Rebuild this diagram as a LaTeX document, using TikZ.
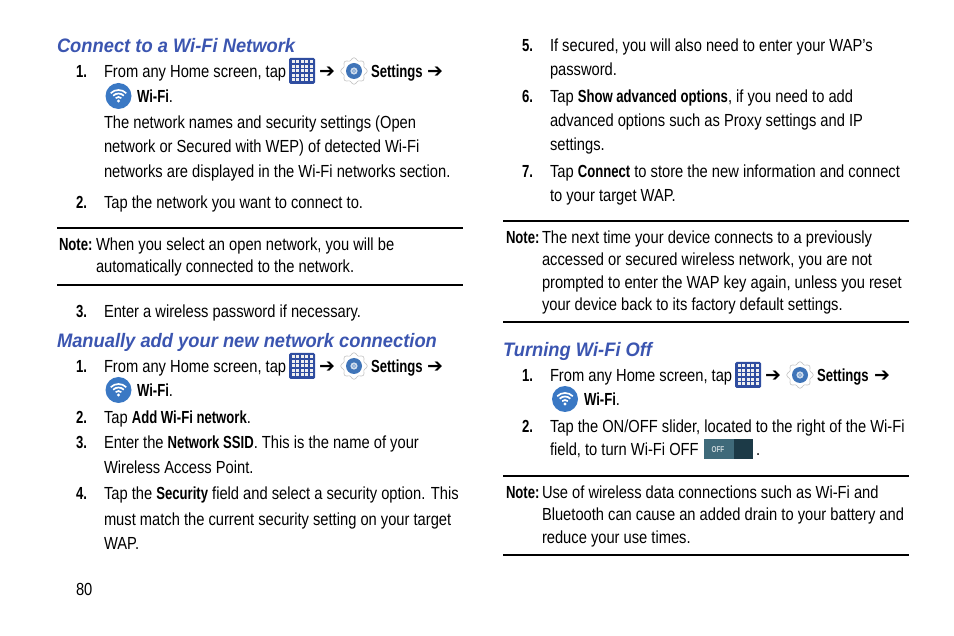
\documentclass[tikz,border=0pt]{standalone}
\usepackage{fontspec}
\setmainfont[FakeStretch=0.84,BoldFeatures={FakeStretch=0.75}]{Liberation Sans}
\newfontfamily\headfont[FakeStretch=0.94]{Liberation Sans}
\newfontfamily\arrowfont{DejaVu Sans}
\usepackage{xcolor}
\definecolor{headblue}{HTML}{3B55B0}
\definecolor{appsblue}{HTML}{2F4DA0}
\definecolor{wifiblue}{HTML}{3A78C4}
\definecolor{gearblue}{HTML}{3F74B8}
\definecolor{sliderdark}{HTML}{1C3A47}
\definecolor{sliderlight}{HTML}{3F6A7A}
\tikzset{
  txt/.style={anchor=base west,inner sep=0pt,outer sep=0pt,yshift=-2pt,font=\fontsize{17.5}{20}\selectfont},
  num/.style={txt,font=\fontsize{17.5}{20}\selectfont\bfseries},
  head/.style={anchor=base west,inner sep=0pt,outer sep=0pt,yshift=-1pt,text=headblue,font=\fontsize{19.5}{22}\headfont\bfseries\itshape},
  arrowtxt/.style={inner sep=0pt,outer sep=0pt,yshift=-1.5pt,font=\fontsize{19}{21}\arrowfont},
  thinrule/.style={line width=1.4pt},
  thickrule/.style={line width=2.2pt},
  appsicon/.pic={
    \fill [appsblue,rounded corners=1.5pt] (-13,-13) rectangle (13,13);
    \foreach \i in {0,...,4}
      \foreach \j in {0,...,4}
        \fill [gray!12] (-10.5+\i*4.5,-10.5+\j*4.5) rectangle +(3,3);
  },
  gearicon/.pic={
    \draw [gray!50,fill=white,line width=.6pt] plot [smooth cycle,domain=0:355,samples=72]
      ({(12+1.2*cos(8*\x))*cos(\x)},{(12+1.2*cos(8*\x))*sin(\x)});
    \fill [gearblue] (0,0) circle (8);
    \fill [gearblue!25] (0,0) circle (3.6);
    \draw [gearblue!70,line width=.8pt] (0,0) circle (1.6);
  },
  wifiicon/.pic={
    \fill [wifiblue] (0,0) circle (13);
    \fill [white] (0,-5) circle (1.7);
    \draw [white,line width=1.7pt] (0,-5) ++(45:4) arc (45:135:4);
    \draw [white,line width=1.7pt] (0,-5) ++(45:7.5) arc (45:135:7.5);
    \draw [white,line width=1.7pt] (0,-5) ++(45:11) arc (45:135:11);
  }
}
\begin{document}
\begin{tikzpicture}[x=1pt,y=1pt]
\useasboundingbox (0,0) rectangle (954,-636);
% left column
\node [head] (headconnect) at (57,-52) {Connect to a Wi-Fi Network};
\node [num] (cnumone) at (76,-76) {1.};
\node [txt] (ctap) at (104,-76) {From any Home screen, tap};
\pic at (302,-71) {appsicon};
\node [arrowtxt] (carrowa) at (327,-71) {➔};
\pic at (354,-71) {gearicon};
\node [num] (csettings) at (371,-76) {Settings};
\node [arrowtxt] (carrowb) at (435,-71) {➔};
\pic at (118.5,-96) {wifiicon};
\node [txt] (cwifi) at (137,-101) {\textbf{Wi-Fi}.};
\node [txt] (cnetsa) at (104,-127) {The network names and security settings (Open};
\node [txt] (cnetsb) at (104,-151) {network or Secured with WEP) of detected Wi-Fi};
\node [txt] (cnetsc) at (104,-176) {networks are displayed in the Wi-Fi networks section.};
\node [num] (cnumtwo) at (76,-207) {2.};
\node [txt] (ctapnet) at (104,-207) {Tap the network you want to connect to.};
\draw [thinrule] (57,-228)--(463,-228);
\node [num] (cnote) at (59,-249) {Note:};
\node [txt] (cnotea) at (96,-249) {When you select an open network, you will be};
\node [txt] (cnoteb) at (96,-271) {automatically connected to the network.};
\draw [thinrule] (57,-285)--(463,-285);
\node [num] (cnumthree) at (76,-316) {3.};
\node [txt] (cpass) at (104,-316) {Enter a wireless password if necessary.};
\node [head] (headmanual) at (57,-347) {Manually add your new network connection};
\node [num] (mnumone) at (76,-371) {1.};
\node [txt] (mtap) at (104,-371) {From any Home screen, tap};
\pic at (302,-366) {appsicon};
\node [arrowtxt] (marrowa) at (327,-366) {➔};
\pic at (354,-366) {gearicon};
\node [num] (msettings) at (371,-371) {Settings};
\node [arrowtxt] (marrowb) at (435,-366) {➔};
\pic at (118.5,-390) {wifiicon};
\node [txt] (mwifi) at (137,-395) {\textbf{Wi-Fi}.};
\node [num] (mnumtwo) at (76,-422) {2.};
\node [txt] (madd) at (104,-422) {Tap \textbf{Add Wi-Fi network}.};
\node [num] (mnumthree) at (76,-447) {3.};
\node [txt] (mssida) at (104,-447) {Enter the \textbf{Network SSID}. This is the name of your};
\node [txt] (mssidb) at (104,-472) {Wireless Access Point.};
\node [num] (mnumfour) at (76,-498) {4.};
\node [txt] (mseca) at (104,-498) {Tap the \textbf{Security} field and select a security option. This};
\node [txt] (msecb) at (104,-523) {must match the current security setting on your target};
\node [txt] (msecc) at (104,-547) {WAP.};
\node [txt] (pagenum) at (76,-593) {80};
% right column
\node [num] (rnumfive) at (522,-50) {5.};
\node [txt] (rseca) at (550,-50) {If secured, you will also need to enter your WAP’s};
\node [txt] (rsecb) at (550,-74) {password.};
\node [num] (rnumsix) at (522,-101) {6.};
\node [txt] (rshowa) at (550,-101) {Tap \textbf{Show advanced options}, if you need to add};
\node [txt] (rshowb) at (550,-125) {advanced options such as Proxy settings and IP};
\node [txt] (rshowc) at (550,-149) {settings.};
\node [num] (rnumseven) at (522,-176) {7.};
\node [txt] (rconna) at (550,-176) {Tap \textbf{Connect} to store the new information and connect};
\node [txt] (rconnb) at (550,-200) {to your target WAP.};
\draw [thickrule] (503,-221)--(909,-221);
\node [num] (rnote) at (506,-242) {Note:};
\node [txt] (rnotea) at (542,-242) {The next time your device connects to a previously};
\node [txt] (rnoteb) at (542,-264) {accessed or secured wireless network, you are not};
\node [txt] (rnotec) at (542,-287) {prompted to enter the WAP key again, unless you reset};
\node [txt] (rnoted) at (542,-309) {your device back to its factory default settings.};
\draw [thinrule] (503,-322)--(909,-322);
\node [head] (headoff) at (503,-356) {Turning Wi-Fi Off};
\node [num] (tnumone) at (522,-380) {1.};
\node [txt] (ttap) at (550,-380) {From any Home screen, tap};
\pic at (748,-375) {appsicon};
\node [arrowtxt] (tarrowa) at (773,-375) {➔};
\pic at (800,-375) {gearicon};
\node [num] (tsettings) at (817,-380) {Settings};
\node [arrowtxt] (tarrowb) at (882,-375) {➔};
\pic at (565,-399) {wifiicon};
\node [txt] (twifi) at (584,-404) {\textbf{Wi-Fi}.};
\node [num] (tnumtwo) at (522,-431) {2.};
\node [txt] (tslidea) at (550,-431) {Tap the ON/OFF slider, located to the right of the Wi-Fi};
\node [txt] (tslideb) at (550,-454) {field, to turn Wi-Fi OFF};
\fill [sliderdark] (704,-439)rectangle(753,-459);
\fill [sliderlight] (704,-439)rectangle(734,-459);
\node [inner sep=0pt,text=white!75!sliderlight,font=\fontsize{8.5}{9}\selectfont\bfseries] (toff) at (718,-449.5) {OFF};
\node [txt] (tdot) at (756,-454) {.};
\draw [thickrule] (503,-476)--(909,-476);
\node [num] (tnote) at (506,-496) {Note:};
\node [txt] (tnotea) at (542,-496) {Use of wireless data connections such as Wi-Fi and};
\node [txt] (tnoteb) at (542,-518) {Bluetooth can cause an added drain to your battery and};
\node [txt] (tnotec) at (542,-541) {reduce your use times.};
\draw [thinrule] (503,-555)--(909,-555);
\end{tikzpicture}
\end{document}
